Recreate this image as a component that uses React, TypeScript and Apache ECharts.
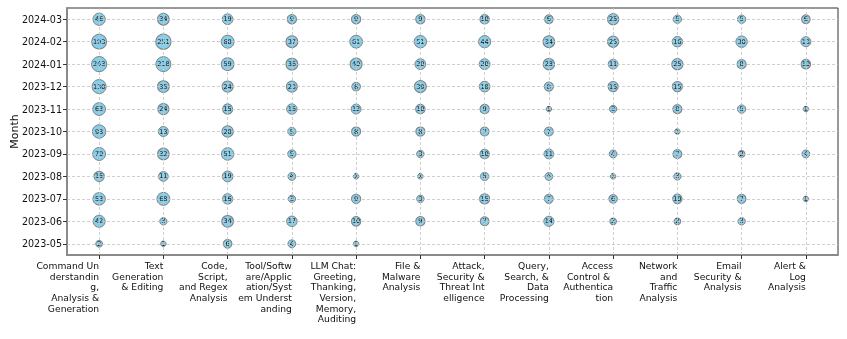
import React, { useEffect, useRef } from "react";
import * as echarts from "echarts";

const categories = [
  "Command Understanding, Analysis & Generation",
  "Text Generation & Editing",
  "Code, Script, and Regex Analysis",
  "Tool/Software/Application/System Understanding",
  "LLM Chat: Greeting, Thanking, Version, Memory, Auditing",
  "File & Malware Analysis",
  "Attack, Security & Threat Intelligence",
  "Query, Search, & Data Processing",
  "Access Control & Authentication",
  "Network and Traffic Analysis",
  "Email Security & Analysis",
  "Alert & Log Analysis",
];

const categoryLabels = [
  "Command Un\nderstandin\ng,\nAnalysis &\nGeneration",
  "Text\nGeneration\n& Editing",
  "Code,\nScript,\nand Regex\nAnalysis",
  "Tool/Softw\nare/Applic\nation/Syst\nem Underst\nanding",
  "LLM Chat:\nGreeting,\nThanking,\nVersion,\nMemory,\nAuditing",
  "File &\nMalware\nAnalysis",
  "Attack,\nSecurity &\nThreat Int\nelligence",
  "Query,\nSearch, &\nData\nProcessing",
  "Access\nControl & \nAuthentica\ntion",
  "Network\nand\nTraffic\nAnalysis",
  "Email\nSecurity &\nAnalysis",
  "Alert &\nLog\nAnalysis",
];

const months = [
  "2023-05", "2023-06", "2023-07", "2023-08", "2023-09", "2023-10",
  "2023-11", "2023-12", "2024-01", "2024-02", "2024-03",
];

// counts per month (same order as months), one value per category; null = none
const m202305 = [2, 1, 6, 4, 1, null, null, null, null, null, null, null];
const m202306 = [42, 3, 34, 17, 10, 9, 7, 14, 2, 2, 3, null];
const m202307 = [53, 68, 16, 3, 9, 3, 15, 7, 6, 10, 7, 1];
const m202308 = [15, 11, 19, 4, 1, 1, 5, 4, 1, 3, null, null];
const m202309 = [70, 32, 51, 5, null, 3, 10, 11, 4, 7, 2, 4];
const m202310 = [93, 13, 28, 5, 8, 8, 7, 7, null, 1, null, null];
const m202311 = [63, 24, 15, 16, 12, 10, 9, 1, 3, 8, 5, 1];
const m202312 = [130, 35, 24, 23, 6, 39, 18, 8, 15, 15, null, null];
const m202401 = [243, 218, 59, 36, 40, 20, 20, 28, 11, 25, 8, 10];
const m202402 = [193, 251, 68, 37, 61, 51, 44, 34, 25, 16, 30, 13];
const m202403 = [46, 34, 19, 9, 9, 9, 10, 6, 25, 5, 5, 6];

const monthRows = [
  m202305, m202306, m202307, m202308, m202309, m202310,
  m202311, m202312, m202401, m202402, m202403,
];

export default function App() {
  const ref = useRef<HTMLDivElement>(null);

  useEffect(() => {
    if (!ref.current) return;
    const chart = echarts.init(ref.current, undefined, { renderer: "svg" });

    const points: any[] = [];
    monthRows.forEach((row, yi) => {
      row.forEach((v, xi) => {
        if (v !== null && v !== undefined) points.push([categories[xi], months[yi], v]);
      });
    });

    const font = "DejaVu Sans";
    const gridLine = {
      silent: true,
      symbol: ["none", "none"],
      label: { show: false },
      lineStyle: { color: "#c4c4c4", type: [3, 2], width: 0.8 },
      emphasis: { disabled: true },
      data: [
        ...categories.map((c) => ({ xAxis: c })),
        ...months.map((m) => ({ yAxis: m })),
      ],
    };

    chart.setOption({
      animation: false,
      textStyle: { fontFamily: font },
      grid: {
        left: 67,
        right: 9,
        top: 8,
        bottom: 84,
        show: true,
        borderColor: "#333",
        borderWidth: 1,
        backgroundColor: "transparent",
        containLabel: false,
        outerBoundsMode: "none",
      },
      xAxis: {
        type: "category",
        data: categories,
        boundaryGap: true,
        axisLine: { show: true, lineStyle: { color: "#8a8a8a", width: 2 } },
        axisTick: { show: true, alignWithLabel: true, length: 4, lineStyle: { color: "#333" } },
        splitLine: { show: false },
        axisLabel: {
          interval: 0,
          align: "right",
          margin: 5,
          fontSize: 9.2,
          lineHeight: 10.7,
          color: "#111",
          fontFamily: font,
          hideOverlap: false,
          formatter: (_v: string, i: number) => categoryLabels[i],
        },
      },
      yAxis: {
        type: "category",
        data: months,
        boundaryGap: true,
        name: "Month",
        nameLocation: "middle",
        nameGap: 47,
        nameMoveOverlap: false,
        nameTextStyle: { fontSize: 11, color: "#111", fontFamily: font },
        axisLine: { show: true, lineStyle: { color: "#8a8a8a", width: 2 } },
        axisTick: { show: true, alignWithLabel: true, length: 4, lineStyle: { color: "#333" } },
        splitLine: { show: false },
        axisLabel: { fontSize: 9.6, color: "#111", margin: 5, fontFamily: font },
      },
      series: [
        {
          type: "scatter",
          data: [],
          z: 1,
          silent: true,
          markLine: gridLine,
        },
        {
          type: "scatter",
          z: 3,
          data: points,
          symbolSize: (val: any) => 5.5 + 1.75 * Math.log(val[2]),
          itemStyle: { color: "#87CEEB", borderColor: "#808080", borderWidth: 1, opacity: 1 },
          label: {
            show: true,
            position: "inside",
            formatter: (p: any) => String(p.value[2]),
            fontSize: 6.5,
            color: "#111",
            fontFamily: font,
          },
          emphasis: { disabled: true },
        },
      ],
    });

    return () => chart.dispose();
  }, []);

  return (
    <div
      ref={ref}
      style={{ position: "fixed", left: 0, top: 0, width: 847, height: 339 }}
    />
  );
}
